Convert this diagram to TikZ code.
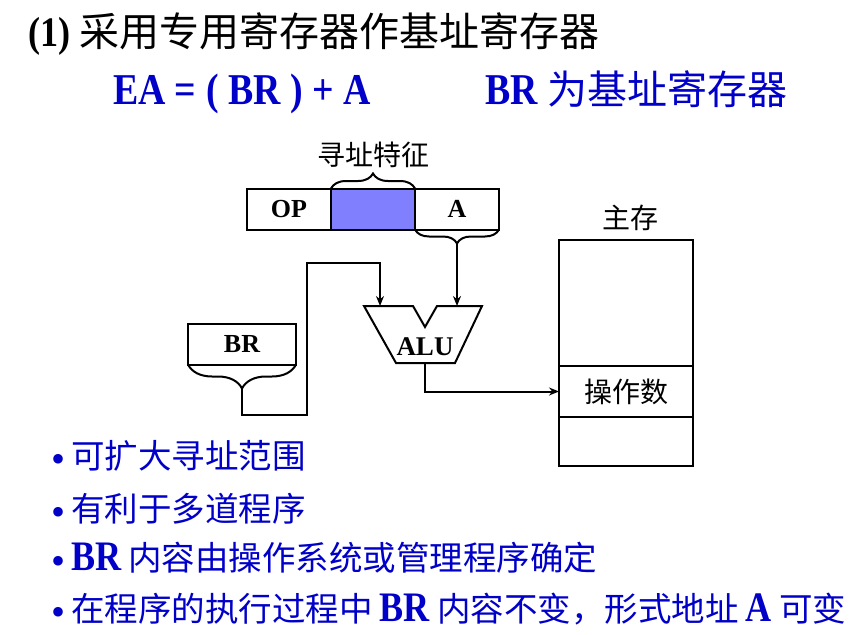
\documentclass[tikz,border=0pt]{standalone}
\usepackage{fontspec}
\setmainfont[FakeStretch=0.86]{Liberation Serif}
\newfontfamily\tnr{Liberation Serif}
\newfontfamily\cjk{Noto Sans CJK SC}
\usetikzlibrary{positioning,decorations.pathreplacing,arrows.meta}
\definecolor{eablue}{RGB}{0,0,200}
\definecolor{fieldblue}{RGB}{128,128,255}
\newcommand\zh[1]{{\cjk\mdseries #1}}
\newcommand\dotitem{\raisebox{-4pt}{\tnr\fontsize{40}{40}\selectfont\textbullet}\hspace{6pt}}

\begin{document}
\begin{tikzpicture}[
  x=1pt, y=-1pt,
  line width=2pt,
  >={Stealth[length=10pt, width=8pt]},
  fld/.style={draw, outer sep=0pt, minimum width=84pt, minimum height=41pt, inner sep=0pt, font=\tnr\bfseries\fontsize{26}{26}\selectfont},
  cell/.style={draw, outer sep=0pt, minimum width=134pt, inner sep=0pt},
  lab/.style={inner sep=1pt, font=\cjk\fontsize{28}{30}\selectfont},
  brc/.style={decorate, decoration={brace, amplitude=#1}},
  arr/.style={->},
  txt/.style={anchor=base west, inner sep=0pt, text=eablue},
  big/.style={font=\fontsize{33.5}{34}\selectfont}
]
\useasboundingbox (0,0) rectangle (864,634);

\node[anchor=base west, inner sep=0pt] (title) at (27,47) {\fontsize{42}{42}\selectfont\bfseries (1) {\cjk\mdseries\fontsize{40}{40}\selectfont 采用专用寄存器作基址寄存器}};
\node[txt] (ea) at (112,104) {\fontsize{44}{44}\selectfont\bfseries EA = ( BR ) + A};
\node[txt] (brnote) at (484,104) {\fontsize{44}{44}\selectfont\bfseries BR {\cjk\mdseries\fontsize{40}{40}\selectfont 为基址寄存器}};

\node[fld] (op) at (289,209) {OP};
\node[fld, fill=fieldblue, right=0pt of op] (mode) {};
\node[fld, right=0pt of mode] (addr) {A};
\draw[brc=15pt] (mode.north west) -- (mode.north east);
\node[lab, above=19pt of mode] (modelab) {寻址特征};
\draw[brc=14pt] (addr.south east) -- (addr.south west);
\path (addr.south) ++(0,14) coordinate (atip);

\node[fld, minimum width=108pt] (br) at (242,344) {BR};
\draw[brc=24pt] (br.south east) -- (br.south west);
\path (br.south) ++(0,24) coordinate (brtip);

\node[inner sep=0pt, font=\tnr\bfseries\fontsize{27}{27}\selectfont] (alu) at (425,347) {ALU};
\draw (364,306) -- (413,306) -- (425,327) -- (437,306) -- (482,306) -- (455,363) -- (396,363) -- cycle;
\coordinate (aluL) at (380,306);
\coordinate (aluR) at (atip |- aluL);
\coordinate (aluOut) at (425,363);

\node[cell, minimum height=126pt] (mem) at (626,303) {};
\node[lab, cell, minimum height=51pt, below=0pt of mem] (opnd) {操作数};
\node[cell, minimum height=49pt, below=0pt of opnd] (memlow) {};
\node[lab, above=7pt of mem, xshift=4pt] (memlab) {主存};

\draw[arr] (atip) -- (aluR);
\draw[arr] (brtip) -- ++(0,26) -| ++(65,-152) -| (aluL);
\draw[arr] (aluOut) |- (opnd.west);

\node[txt, big] (b1) at (50,468) {\dotitem\zh{可扩大寻址范围}};
\node[txt, big] (b2) at (50,521) {\dotitem\zh{有利于多道程序}};
\node[txt, big] (b3) at (50,570) {\dotitem{\bfseries\fontsize{42}{42}\selectfont BR} \zh{内容由操作系统或管理程序确定}};
\node[txt, big] (b4) at (50,621) {\dotitem\zh{在程序的执行过程中} {\bfseries\fontsize{42}{42}\selectfont BR} \zh{内容不变，形式地址} {\bfseries\fontsize{42}{42}\selectfont A} \zh{可变}};

\end{tikzpicture}
\end{document}
